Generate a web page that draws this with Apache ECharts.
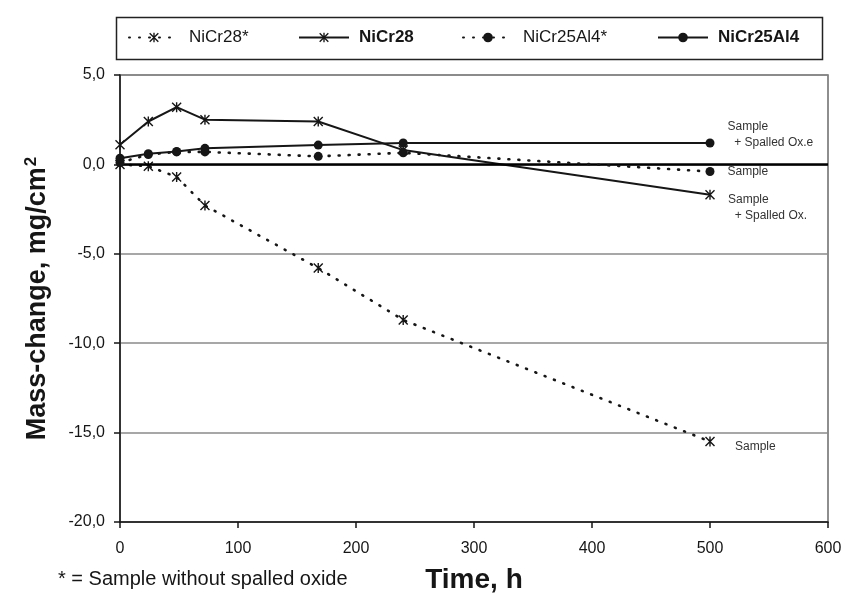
<!DOCTYPE html>
<html>
<head>
<meta charset="utf-8">
<script src="https://cdn.jsdelivr.net/npm/echarts@6/dist/echarts.min.js"></script>
<style>
  html, body { margin: 0; padding: 0; background: #fff; }
  #chart { width: 846px; height: 599px; }
</style>
</head>
<body>
<div id="chart"></div>
<script>
// Exposure times (h) and mass change (mg/cm2) per alloy
const hours = [0, 24, 48, 72, 168, 240, 500];
const nicr28Star = [0.0, -0.1, -0.7, -2.3, -5.8, -8.7, -15.5];
const nicr28 = [1.1, 2.4, 3.2, 2.5, 2.4, 0.8, -1.7];
const nicr25al4Star = [0.1, 0.55, 0.7, 0.7, 0.45, 0.65, -0.4];
const nicr25al4 = [0.35, 0.6, 0.72, 0.9, 1.08, 1.2, 1.2];

const seriesNames = ['NiCr28*', 'NiCr28', 'NiCr25Al4*', 'NiCr25Al4'];
const endNotes = ['Sample', 'Sample\n  + Spalled Ox.', 'Sample', 'Sample\n  + Spalled Ox.e'];
const footnote = '* = Sample without spalled oxide';

const FONT = '"Liberation Sans", Arial, sans-serif';
const INK = '#161616';
const ASTERISK = 'path://M0,1L1,0L10,9L9,10Z M9,0L10,1L1,10L0,9Z M4.3,0L5.7,0L5.7,10L4.3,10Z';

function points(values, note, dx, dy) {
  const last = values.length - 1;
  return values.map((v, i) => {
    if (i !== last) return [hours[i], v];
    return {
      value: [hours[i], v],
      label: {
        show: true, position: 'right', distance: dx, offset: [0, dy],
        formatter: note, fontFamily: FONT, fontSize: 12, lineHeight: 16, color: '#333'
      }
    };
  });
}

const dotted = { color: INK, width: 2.6, type: [1, 9], cap: 'round' };
const solid = { color: INK, width: 2 };

const chart = echarts.init(document.getElementById('chart'), null, { renderer: 'canvas' });

const legendBase = {
  top: 29, padding: 0, itemWidth: 50, itemHeight: 12,
  textStyle: { fontFamily: FONT, fontSize: 17, color: INK, padding: [0, 0, 0, 5] },
  selectedMode: false
};

chart.setOption({
  animation: false,
  backgroundColor: '#fff',
  grid: {
    left: 120, right: 18, top: 75, bottom: 77,
    show: true, borderColor: '#6a6a6a', borderWidth: 1.5
  },
  legend: [
    Object.assign({}, legendBase, { left: 128, data: [seriesNames[0]] }),
    Object.assign({}, legendBase, { left: 298, data: [seriesNames[1]],
      textStyle: Object.assign({}, legendBase.textStyle, { fontWeight: 'bold' }) }),
    Object.assign({}, legendBase, { left: 462, data: [seriesNames[2]] }),
    Object.assign({}, legendBase, { left: 657, data: [seriesNames[3]],
      textStyle: Object.assign({}, legendBase.textStyle, { fontWeight: 'bold' }) })
  ],
  xAxis: {
    type: 'value', min: 0, max: 600, interval: 100,
    name: 'Time, h', nameLocation: 'middle', nameGap: 44,
    nameTextStyle: { fontFamily: FONT, fontSize: 28, fontWeight: 'bold', color: INK },
    axisLine: { onZero: false, lineStyle: { color: INK, width: 1.5 } },
    axisTick: { show: true, inside: false, length: 6, lineStyle: { color: INK, width: 1.5 } },
    axisLabel: { fontFamily: FONT, fontSize: 16, color: INK, margin: 19 },
    splitLine: { show: false }
  },
  yAxis: {
    type: 'value', min: -20, max: 5, interval: 5,
    name: 'Mass-change, mg/cm{sup|2}', nameLocation: 'middle', nameGap: 68, nameRotate: 90,
    nameTextStyle: {
      fontFamily: FONT, fontSize: 27, fontWeight: 'bold', color: INK,
      rich: { sup: { fontFamily: FONT, fontSize: 17, fontWeight: 'bold', color: INK, verticalAlign: 'top', padding: [0, 0, 12, 1] } }
    },
    axisLine: { onZero: false, lineStyle: { color: INK, width: 1.5 } },
    axisTick: { show: true, inside: false, length: 6, lineStyle: { color: INK, width: 1.5 } },
    axisLabel: {
      fontFamily: FONT, fontSize: 16, color: INK, margin: 15,
      formatter: v => v.toFixed(1).replace('.', ',')
    },
    splitLine: { show: true, lineStyle: { color: '#8a8a8a', width: 1.5 } }
  },
  graphic: [
    {
      type: 'rect', left: 114, top: 15, silent: true,
      shape: { width: 706, height: 42 },
      style: { fill: 'none', stroke: '#222', lineWidth: 1.5 }
    },
    {
      type: 'text', left: 58, top: 569, silent: true,
      style: { text: footnote, fontFamily: FONT, fontSize: 20, fill: INK }
    }
  ],
  series: [
    {
      name: seriesNames[0], type: 'line', data: points(nicr28Star, endNotes[0], 20, 5),
      symbol: ASTERISK, symbolSize: 10, itemStyle: { color: INK }, lineStyle: dotted, z: 3,
      markLine: {
        silent: true, symbol: 'none', label: { show: false },
        lineStyle: { color: '#000', width: 2.5, type: 'solid' },
        data: [{ yAxis: 0 }]
      }
    },
    {
      name: seriesNames[1], type: 'line', data: points(nicr28, endNotes[1], 13, 13),
      symbol: ASTERISK, symbolSize: 10, itemStyle: { color: INK }, lineStyle: solid, z: 4
    },
    {
      name: seriesNames[2], type: 'line', data: points(nicr25al4Star, endNotes[2], 13, 0),
      symbol: 'circle', symbolSize: 9, itemStyle: { color: INK }, lineStyle: dotted, z: 5
    },
    {
      name: seriesNames[3], type: 'line', data: points(nicr25al4, endNotes[3], 13, -8),
      symbol: 'circle', symbolSize: 9, itemStyle: { color: INK }, lineStyle: solid, z: 6
    }
  ]
});
</script>
</body>
</html>
